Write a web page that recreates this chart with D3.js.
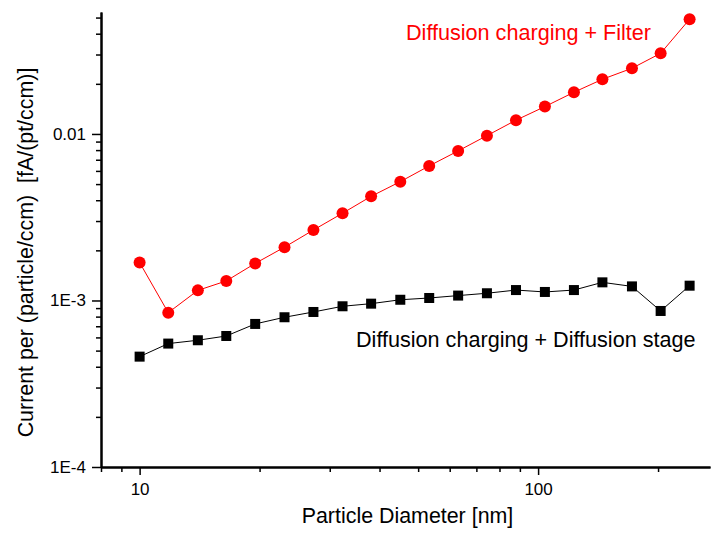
<!DOCTYPE html>
<html>
<head>
<meta charset="utf-8">
<script src="https://cdn.jsdelivr.net/npm/d3@7"></script>
<style>
  body { margin: 0; background: #fff; }
  svg text { font-family: "Liberation Sans", Arial, sans-serif; }
</style>
</head>
<body>
<div id="chart"></div>
<script>
// Particle diameters [nm]
var diameters = [10, 11.8, 14, 16.5, 19.5, 23.1, 27.3, 32.3, 38.1, 45.1,
                 53.3, 63, 74.4, 88, 104, 123, 145, 172, 203, 240];

// Diffusion charging + Filter (red circles)
var filterValues = [1.69e-3, 8.45e-4, 1.15e-3, 1.31e-3, 1.67e-3, 2.09e-3, 2.65e-3, 3.34e-3, 4.22e-3, 5.17e-3,
                    6.43e-3, 7.91e-3, 9.77e-3, 0.0121, 0.0146, 0.0178, 0.0213, 0.0248, 0.0305, 0.0489];

// Diffusion charging + Diffusion stage (black squares)
var stageValues = [4.60e-4, 5.51e-4, 5.77e-4, 6.12e-4, 7.23e-4, 7.93e-4, 8.53e-4, 9.23e-4, 9.57e-4, 1.01e-3,
                   1.035e-3, 1.07e-3, 1.105e-3, 1.155e-3, 1.125e-3, 1.155e-3, 1.285e-3, 1.215e-3, 8.65e-4, 1.227e-3];

// Tick values and labels
var xMajorTicks = [10, 100];
var xMajorLabels = ["10", "100"];
var xMinorTicks = [8, 9, 20, 30, 40, 50, 60, 70, 80, 90, 200];
var yMajorTicks = [1e-4, 1e-3, 1e-2];
var yMajorLabels = ["1E-4", "1E-3", "0.01"];
var yMinorTicks = [2e-4, 3e-4, 4e-4, 5e-4, 6e-4, 7e-4, 8e-4, 9e-4,
                   2e-3, 3e-3, 4e-3, 5e-3, 6e-3, 7e-3, 8e-3, 9e-3,
                   0.02, 0.03, 0.04, 0.05];

var seriesNames = ["Diffusion charging + Filter", "Diffusion charging + Diffusion stage"];

var main = function () {
    "use strict";

    var width = 711, height = 533;
    var left = 101, right = 710, top = 12, bottom = 467;

    var svg = d3.select("#chart").append("svg")
        .attr("width", width)
        .attr("height", height);

    var x = d3.scaleLog().domain([8, 270]).range([left, right]);
    var y = d3.scaleLog().domain([1e-4, 0.054]).range([bottom, top]);

    // X axis: major ticks with labels, then minor ticks
    svg.append("g")
        .attr("transform", "translate(0," + bottom + ")")
        .call(d3.axisBottom(x).tickValues(xMajorTicks)
            .tickFormat(function(d, i) { return xMajorLabels[i]; })
            .tickSize(8).tickSizeOuter(0).tickPadding(8));
    svg.append("g")
        .attr("transform", "translate(0," + bottom + ")")
        .call(d3.axisBottom(x).tickValues(xMinorTicks).tickFormat("")
            .tickSize(5).tickSizeOuter(0));

    // Y axis
    svg.append("g")
        .attr("transform", "translate(" + left + ",0)")
        .call(d3.axisLeft(y).tickValues(yMajorTicks)
            .tickFormat(function(d, i) { return yMajorLabels[i]; })
            .tickSize(9).tickSizeOuter(0).tickPadding(6));
    svg.append("g")
        .attr("transform", "translate(" + left + ",0)")
        .call(d3.axisLeft(y).tickValues(yMinorTicks).tickFormat("")
            .tickSize(5).tickSizeOuter(0));

    svg.selectAll(".domain").attr("stroke", "#000").attr("stroke-width", 2);
    svg.selectAll(".tick line").attr("stroke", "#000").attr("stroke-width", 1.5);
    svg.selectAll(".tick text")
        .attr("fill", "#000")
        .style("font-size", "17px")
        .style("font-family", "'Liberation Sans', Arial, sans-serif");

    // Axis titles
    svg.append("text")
        .attr("x", 407.5)
        .attr("y", 523)
        .attr("text-anchor", "middle")
        .style("font-size", "21.4px")
        .text("Particle Diameter [nm]");

    svg.append("text")
        .attr("transform", "translate(33,252.5) rotate(-90)")
        .attr("text-anchor", "middle")
        .style("font-size", "21.4px")
        .style("white-space", "pre")
        .text("Current per (particle/ccm)  [fA/(pt/ccm)]");

    var line = function(values) {
        return d3.line()
            .x(function(d, i) { return x(diameters[i]); })
            .y(function(d) { return y(d); })(values);
    };

    // Black series: squares
    svg.append("path")
        .attr("d", line(stageValues))
        .attr("fill", "none")
        .attr("stroke", "#000")
        .attr("stroke-width", 1);
    svg.append("g").selectAll("rect")
        .data(stageValues)
        .enter()
        .append("rect")
        .attr("x", function(d, i) { return x(diameters[i]) - 5; })
        .attr("y", function(d) { return y(d) - 5; })
        .attr("width", 10)
        .attr("height", 10)
        .attr("fill", "#000");

    // Red series: circles
    svg.append("path")
        .attr("d", line(filterValues))
        .attr("fill", "none")
        .attr("stroke", "#ff0000")
        .attr("stroke-width", 1);
    svg.append("g").selectAll("circle")
        .data(filterValues)
        .enter()
        .append("circle")
        .attr("cx", function(d, i) { return x(diameters[i]); })
        .attr("cy", function(d) { return y(d); })
        .attr("r", 6)
        .attr("fill", "#ff0000");

    // Series labels
    svg.append("text")
        .attr("x", 406)
        .attr("y", 39.5)
        .attr("fill", "#ff0000")
        .style("font-size", "21.6px")
        .text(seriesNames[0]);

    svg.append("text")
        .attr("x", 356)
        .attr("y", 347)
        .attr("fill", "#000")
        .style("font-size", "21.6px")
        .text(seriesNames[1]);
};

main();
</script>
</body>
</html>
